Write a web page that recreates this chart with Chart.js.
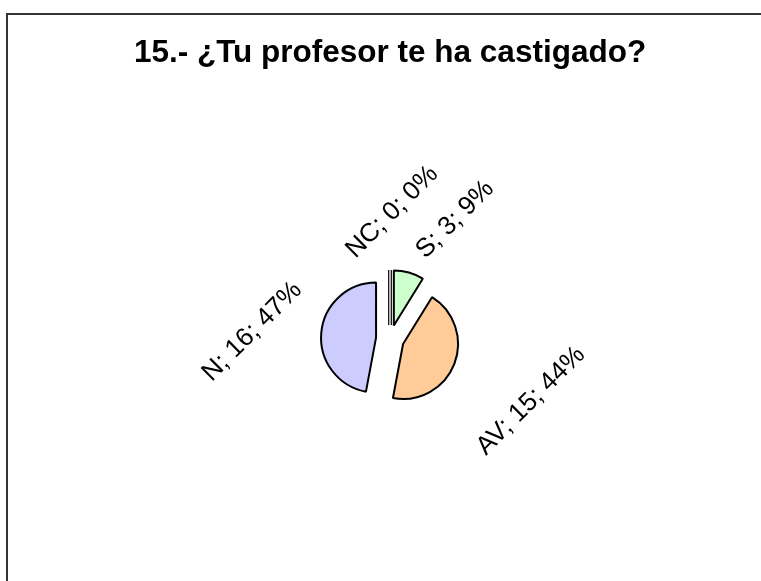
<!DOCTYPE html>
<html>
<head>
<meta charset="utf-8">
<script src="https://cdn.jsdelivr.net/npm/chart.js@4"></script>
<style>
  body { margin: 0; background: #fff; }
</style>
</head>
<body>
<canvas id="chart" width="761" height="581"></canvas>
<script>
const chartTitle = '15.- ¿Tu profesor te ha castigado?';
const categories = ['S', 'AV', 'N', 'NC'];
const counts = [3, 15, 16, 0];
const sliceColors = ['#CCFFCC', '#FFCC99', '#CCCCFF', '#FFFF99'];

const total = counts.reduce((a, b) => a + b, 0);
const labelText = i => categories[i] + '; ' + counts[i] + '; ' + Math.round(counts[i] / total * 100) + '%';

// frame around the whole chart (runs off the right and bottom edge)
const framePlugin = {
  id: 'frame',
  beforeDraw(chart) {
    const ctx = chart.ctx;
    ctx.save();
    ctx.fillStyle = '#fff';
    ctx.fillRect(0, 0, chart.width, chart.height);
    ctx.strokeStyle = '#333';
    ctx.lineWidth = 2;
    ctx.strokeRect(7, 14, chart.width + 20, chart.height + 20);
    ctx.restore();
  }
};

// exploded pie: every arc is pushed out along its middle angle
const explodePlugin = {
  id: 'explode',
  beforeDatasetDraw(chart, args, opts) {
    const ctx = chart.ctx;
    args.meta.data.forEach(arc => {
      const p = arc.getProps(['x', 'y', 'startAngle', 'endAngle', 'outerRadius']);
      const mid = (p.startAngle + p.endAngle) / 2;
      ctx.save();
      ctx.translate(Math.cos(mid) * opts.distance, Math.sin(mid) * opts.distance);
      if (p.endAngle - p.startAngle === 0) {
        // empty slice: only its two edges are left
        ctx.strokeStyle = '#000';
        ctx.lineWidth = 1.2;
        [-1.3, 1.3].forEach(s => {
          const ox = -Math.sin(mid) * s, oy = Math.cos(mid) * s;
          ctx.beginPath();
          ctx.moveTo(p.x + ox, p.y + oy);
          ctx.lineTo(p.x + ox + Math.cos(mid) * p.outerRadius, p.y + oy + Math.sin(mid) * p.outerRadius);
          ctx.stroke();
        });
      } else {
        arc.draw(ctx);
      }
      ctx.restore();
    });
    return false;
  }
};

// rotated data labels "name; value; percent"
const labelPlugin = {
  id: 'sliceLabels',
  afterDraw(chart, args, opts) {
    const ctx = chart.ctx;
    const arc = chart.getDatasetMeta(0).data[0];
    ctx.save();
    ctx.font = opts.font;
    ctx.fillStyle = '#000';
    ctx.textAlign = 'center';
    ctx.textBaseline = 'middle';
    categories.forEach((c, i) => {
      const a = opts.angle[i] * Math.PI / 180;
      const x = arc.x + Math.sin(a) * opts.dist[i];
      const y = arc.y - Math.cos(a) * opts.dist[i];
      ctx.save();
      ctx.translate(x, y);
      ctx.rotate(-Math.PI / 4);
      ctx.fillText(labelText(i), 0, 0);
      ctx.restore();
    });
    ctx.restore();
  }
};

new Chart(document.getElementById('chart'), {
  type: 'pie',
  data: {
    labels: categories,
    datasets: [{
      data: counts,
      backgroundColor: sliceColors,
      borderColor: '#000',
      borderWidth: 2,
      radius: 55
    }]
  },
  options: {
    responsive: false,
    animation: false,
    layout: { padding: { left: 19, right: 0, top: 0, bottom: 0 } },
    plugins: {
      legend: { display: false },
      tooltip: { enabled: false },
      title: {
        display: true,
        text: chartTitle,
        color: '#000',
        font: { family: "'Liberation Sans', Arial, sans-serif", size: 31.5, weight: 'bold' },
        padding: { top: 34, bottom: 25 }
      },
      explode: { distance: 14 },
      sliceLabels: {
        font: "26px 'Liberation Sans', Arial, sans-serif",
        angle: [28.6, 113.7, 273, 1],
        dist: [136, 154, 138, 127]
      }
    }
  },
  plugins: [framePlugin, explodePlugin, labelPlugin]
});
</script>
</body>
</html>
